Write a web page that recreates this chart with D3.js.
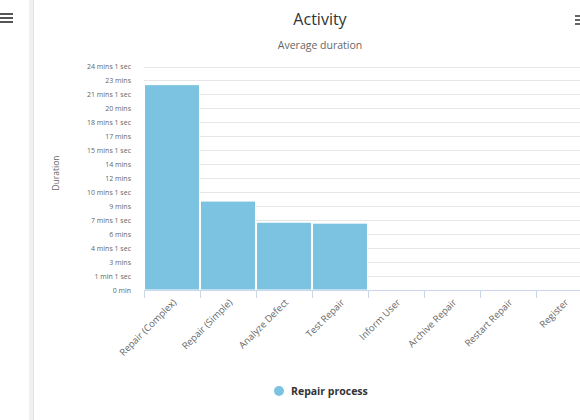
<!DOCTYPE html>
<html>
<head>
<meta charset="utf-8">
<script src="https://cdn.jsdelivr.net/npm/d3@7"></script>
<style>
  html, body { margin: 0; padding: 0; background: #fff; }
  svg { display: block; font-family: "Open Sans", "DejaVu Sans", sans-serif; }
</style>
</head>
<body>
<svg id="chart" width="580" height="420"></svg>
<script>
// Activities and their average duration (minutes)
const categories = ["Repair (Complex)", "Repair (Simple)", "Analyze Defect", "Test Repair",
                    "Inform User", "Archive Repair", "Restart Repair", "Register"];
const avgDuration = [22.05, 9.55, 7.28, 7.18, 0, 0, 0, 0];
const seriesName = "Repair process";

// Y axis ticks (minutes) and their labels
const yTickValues = [0, 1.5, 3, 4.5, 6, 7.5, 9, 10.5, 12, 13.5, 15, 16.5, 18, 19.5, 21, 22.5, 24];
const yTickLabels = ["0 min", "1 min 1 sec", "3 mins", "4 mins 1 sec", "6 mins", "7 mins 1 sec",
                     "9 mins", "10 mins 1 sec", "12 mins", "14 mins", "15 mins 1 sec", "17 mins",
                     "18 mins 1 sec", "20 mins", "21 mins 1 sec", "23 mins", "24 mins 1 sec"];

const svg = d3.select("#chart");
const plot = { left: 144, right: 592, top: 66.5, bottom: 290 };

// Side menu strip and card divider
const menu = svg.append("g").attr("fill", "#555");
[14, 18, 22].forEach(y => menu.append("rect").attr("x", 0).attr("y", y - 1).attr("width", 13).attr("height", 2));
svg.append("rect").attr("x", 29).attr("y", 0).attr("width", 4).attr("height", 420).attr("fill", "#f0f0f0");
svg.append("line").attr("x1", 33.5).attr("x2", 33.5).attr("y1", 0).attr("y2", 420).attr("stroke", "#e2e2e2");

// Context menu icon at top right of the card
const ctx = svg.append("g").attr("fill", "#666");
[16, 20, 24].forEach(y => ctx.append("rect").attr("x", 575).attr("y", y - 1).attr("width", 10).attr("height", 2));

// Titles
svg.append("text").attr("x", 320).attr("y", 25).attr("text-anchor", "middle")
  .attr("font-size", 16).attr("fill", "#333").text("Activity");
svg.append("text").attr("x", 320).attr("y", 49).attr("text-anchor", "middle")
  .attr("font-size", 10.5).attr("fill", "#666").text("Average duration");

// Scales
const x = d3.scaleBand().domain(categories).range([plot.left, plot.right]).padding(0);
const y = d3.scaleLinear().domain([0, 24]).range([plot.bottom, plot.top]);

// Horizontal grid
svg.append("g").selectAll("line").data(yTickValues).join("line")
  .attr("x1", plot.left).attr("x2", 580)
  .attr("y1", d => Math.round(y(d)) + 0.5).attr("y2", d => Math.round(y(d)) + 0.5)
  .attr("stroke", "#e6e6e6");

// Y axis labels
const yAxis = d3.axisLeft(y).tickValues(yTickValues)
  .tickFormat((d, i) => yTickLabels[i]).tickSize(0).tickPadding(13);
const yG = svg.append("g").attr("transform", `translate(${plot.left},0)`).call(yAxis);
yG.select(".domain").remove();
yG.selectAll("text").attr("font-size", 7).attr("fill", "#666")
  .attr("font-family", "'Open Sans', sans-serif");

svg.append("text").attr("transform", "translate(59,173) rotate(-90)")
  .attr("text-anchor", "middle").attr("font-size", 8.5).attr("fill", "#666").text("Duration");

// Bars
svg.append("g").selectAll("rect").data(categories.map((c, i) => ({ c, v: avgDuration[i] }))).join("rect")
  .attr("x", d => x(d.c) + 0.5)
  .attr("width", x.bandwidth() - 1)
  .attr("y", d => y(d.v))
  .attr("height", d => y(0) - y(d.v))
  .attr("fill", "#7cc3e1")
  .attr("stroke", "#fff").attr("stroke-width", 1);

// X axis
const xAxis = d3.axisBottom(x).tickSize(0).tickFormat("");
const xG = svg.append("g").attr("transform", `translate(0,${plot.bottom})`).call(xAxis);
xG.select(".domain").attr("stroke", "#ccd6eb").attr("d", `M${plot.left},0.5H580`);
// category boundary ticks
svg.append("g").selectAll("line").data(categories).join("line")
  .attr("x1", d => Math.round(x(d)) + 0.5).attr("x2", d => Math.round(x(d)) + 0.5)
  .attr("y1", plot.bottom).attr("y2", plot.bottom + 8)
  .attr("stroke", "#ccd6eb");

svg.append("g").selectAll("text").data(categories).join("text")
  .attr("transform", d => `translate(${x(d) + x.bandwidth() / 2 + 5},${plot.bottom + 13}) rotate(-45)`)
  .attr("text-anchor", "end").attr("font-size", 9.5).attr("fill", "#666")
  .text(d => d);

// Legend
svg.append("circle").attr("cx", 279).attr("cy", 391).attr("r", 5).attr("fill", "#7cc3e1");
svg.append("text").attr("x", 291).attr("y", 395).attr("font-size", 10.5).attr("font-weight", "bold")
  .attr("fill", "#333").text(seriesName);
</script>
</body>
</html>
